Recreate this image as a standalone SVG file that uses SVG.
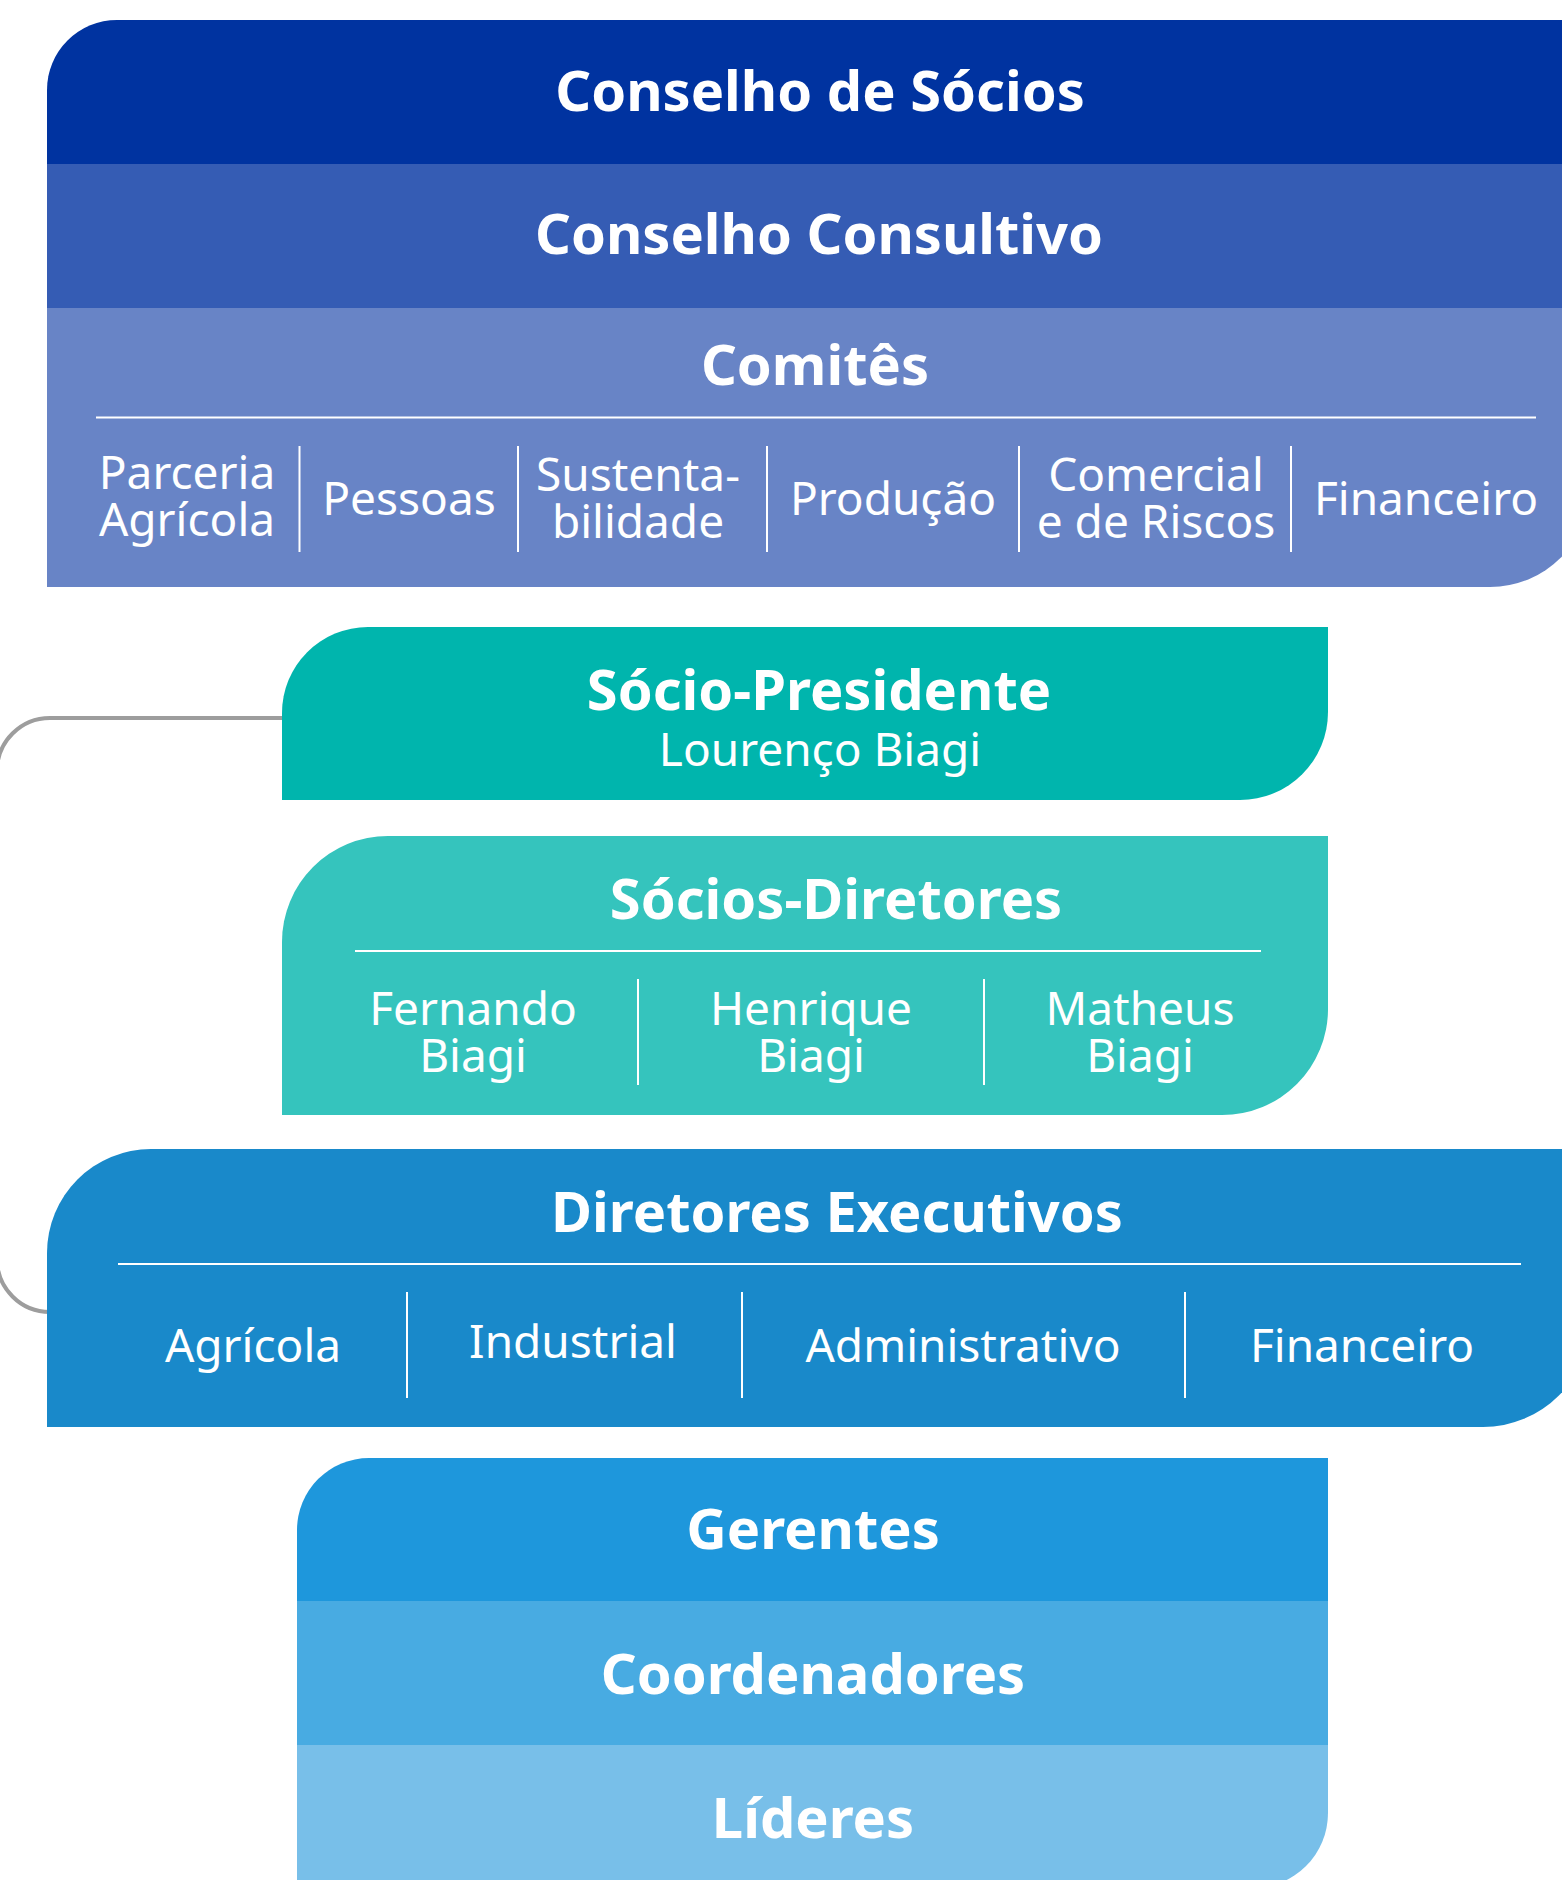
<svg xmlns="http://www.w3.org/2000/svg" width="1562" height="1880" viewBox="0 0 1562 1880">
<style>
.t{font-family:"Noto Sans","Open Sans","DejaVu Sans",sans-serif;fill:#fff;text-anchor:middle}
.h{font-size:56px;font-weight:700}
.i{font-size:46px;font-weight:400}
.sep{stroke:#fff;stroke-width:2;fill:none}
.con{stroke:#9d9d9d;stroke-width:4;fill:none}
</style>
<defs>
<clipPath id="clipTop"><path d="M47 90 A70 70 0 0 1 117 20 H1590 V487 A100 100 0 0 1 1490 587 H47 Z"/></clipPath>
<clipPath id="clipBot"><path d="M297 1530 A72 72 0 0 1 369 1458 H1328 V1813 A75 75 0 0 1 1253 1888 H297 Z"/></clipPath>
</defs>
<g id="connectors">
<path class="con" d="M282 718 H50 A53 53 0 0 0 -3 771 V1259 A53 53 0 0 0 50 1312 H60"/>
</g>
<g id="conselhos">
<g clip-path="url(#clipTop)">
<rect x="40" y="15" width="1560" height="149" fill="#0033a0"/>
<rect x="40" y="164" width="1560" height="144" fill="#355cb4"/>
<rect x="40" y="308" width="1560" height="290" fill="#6884c6"/>
</g>
<g id="conselho-socios"><text class="t h" x="820" y="111">Conselho de Sócios</text></g>
<g id="conselho-consultivo"><text class="t h" x="819" y="254">Conselho Consultivo</text></g>
<g id="comites">
<text class="t h" x="815" y="385">Comitês</text>
<line class="sep" x1="96" y1="417.5" x2="1536" y2="417.5"/>
<line class="sep" x1="299.5" y1="446" x2="299.5" y2="552"/>
<line class="sep" x1="518" y1="446" x2="518" y2="552"/>
<line class="sep" x1="767" y1="446" x2="767" y2="552"/>
<line class="sep" x1="1019" y1="446" x2="1019" y2="552"/>
<line class="sep" x1="1291" y1="446" x2="1291" y2="552"/>
<text class="t i" x="187" y="489">Parceria<tspan x="187" dy="47">Agrícola</tspan></text>
<text class="t i" x="409" y="515">Pessoas</text>
<text class="t i" x="638" y="491">Sustenta-<tspan x="638" dy="47">bilidade</tspan></text>
<text class="t i" x="893" y="515">Produção</text>
<text class="t i" x="1156" y="491">Comercial<tspan x="1156" dy="47">e de Riscos</tspan></text>
<text class="t i" x="1426" y="515">Financeiro</text>
</g>
</g>
<g id="socio-presidente">
<path d="M282 713 A86 86 0 0 1 368 627 H1328 V712 A88 88 0 0 1 1240 800 H282 Z" fill="#00b5ad"/>
<text class="t h" x="819" y="710">Sócio-Presidente</text>
<text class="t i" x="820" y="766">Lourenço Biagi</text>
</g>
<g id="socios-diretores">
<path d="M282 942 A106 106 0 0 1 388 836 H1328 V1009 A106 106 0 0 1 1222 1115 H282 Z" fill="#35c4bd"/>
<text class="t h" x="836" y="919">Sócios-Diretores</text>
<line class="sep" x1="355" y1="951" x2="1261" y2="951"/>
<line class="sep" x1="638" y1="979" x2="638" y2="1085"/>
<line class="sep" x1="984" y1="979" x2="984" y2="1085"/>
<text class="t i" x="473" y="1025">Fernando<tspan x="473" dy="47">Biagi</tspan></text>
<text class="t i" x="811" y="1025">Henrique<tspan x="811" dy="47">Biagi</tspan></text>
<text class="t i" x="1140" y="1025">Matheus<tspan x="1140" dy="47">Biagi</tspan></text>
</g>
<g id="diretores-executivos">
<path d="M47 1253 A104 104 0 0 1 151 1149 H1590 V1320 A107 107 0 0 1 1483 1427 H47 Z" fill="#1989ca"/>
<text class="t h" x="837" y="1232">Diretores Executivos</text>
<line class="sep" x1="118" y1="1264" x2="1521" y2="1264"/>
<line class="sep" x1="407" y1="1292" x2="407" y2="1398"/>
<line class="sep" x1="742" y1="1292" x2="742" y2="1398"/>
<line class="sep" x1="1185" y1="1292" x2="1185" y2="1398"/>
<text class="t i" x="253" y="1362">Agrícola</text>
<text class="t i" x="573" y="1358">Industrial</text>
<text class="t i" x="963" y="1362">Administrativo</text>
<text class="t i" x="1362" y="1362">Financeiro</text>
</g>
<g id="niveis">
<g clip-path="url(#clipBot)">
<rect x="290" y="1450" width="1050" height="151" fill="#1e97dc"/>
<rect x="290" y="1601" width="1050" height="144" fill="#48abe2"/>
<rect x="290" y="1745" width="1050" height="150" fill="#78bfe9"/>
</g>
<g id="gerentes"><text class="t h" x="813" y="1549">Gerentes</text></g>
<g id="coordenadores"><text class="t h" x="813" y="1694">Coordenadores</text></g>
<g id="lideres"><text class="t h" x="813" y="1838">Líderes</text></g>
</g>
</svg>
